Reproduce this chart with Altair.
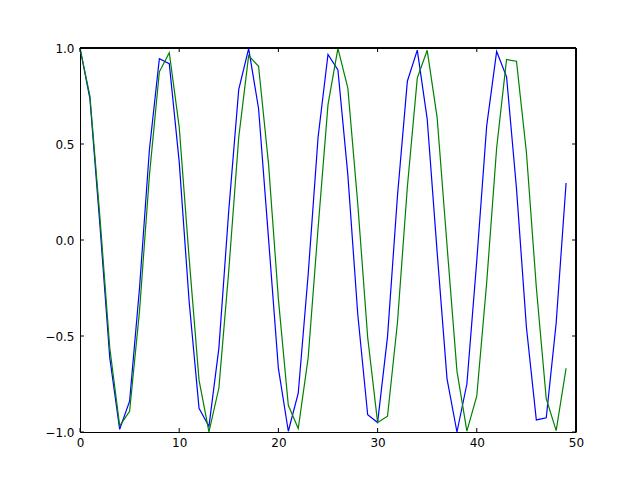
import altair as alt
import pandas as pd

xs = list(range(50))
blue = [1.000, 0.736, 0.083, -0.613, -0.986, -0.839, -0.250, 0.473, 0.944, 0.918,
        0.407, -0.319, -0.877, -0.971, -0.563, 0.156, 0.783, 0.997, 0.685, 0.011,
        -0.669, -0.996, -0.798, -0.180, 0.535, 0.966, 0.886, 0.339, -0.387, -0.910,
        -0.951, -0.503, 0.228, 0.827, 0.989, 0.630, -0.062, -0.723, -1.000, -0.750,
        -0.106, 0.596, 0.982, 0.850, 0.269, -0.453, -0.937, -0.926, -0.433, 0.297]
green = [1.000, 0.750, 0.125, -0.561, -0.968, -0.892, -0.369, 0.338, 0.876, 0.976,
         0.589, -0.093, -0.730, -0.999, -0.771, -0.158, 0.534, 0.960, 0.905, 0.399,
         -0.308, -0.861, -0.982, -0.614, 0.061, 0.705, 0.998, 0.791, 0.189, -0.507,
         -0.951, -0.918, -0.431, 0.276, 0.843, 0.988, 0.639, -0.029, -0.683, -0.995,
         -0.812, -0.220, 0.479, 0.940, 0.931, 0.457, -0.246, -0.826, -0.993, -0.668]
x_ticks = [0, 10, 20, 30, 40, 50]
y_ticks = [-1.0, -0.5, 0.0, 0.5, 1.0]

W, H = 496, 384
xscale = alt.Scale(domain=[0, 50], nice=False, zero=False)
yscale = alt.Scale(domain=[-1, 1], nice=False, zero=False)

df_b = pd.DataFrame({"x": xs, "y": blue})
df_g = pd.DataFrame({"x": xs, "y": green})
df_xt = pd.DataFrame({"t": x_ticks})
df_yt = pd.DataFrame({"t": y_ticks})

xaxis = alt.Axis(values=x_ticks, tickSize=0, grid=False, labelPadding=5,
                 labelFlush=False, labelOverlap=False, domainColor="black",
                 labelColor="black", labelFontSize=12, labelFont="DejaVu Sans",
                 title=None, format="d")
yaxis = alt.Axis(values=y_ticks, tickSize=0, grid=False, labelPadding=6,
                 labelFlush=False, labelOverlap=False, domainColor="black",
                 labelColor="black", labelFontSize=12, labelFont="DejaVu Sans",
                 title=None, format=".1f")

line_b = alt.Chart(df_b).mark_line(color="#0000ff", strokeWidth=1.2).encode(
    x=alt.X("x:Q", scale=xscale, axis=xaxis),
    y=alt.Y("y:Q", scale=yscale, axis=yaxis),
)
line_g = alt.Chart(df_g).mark_line(color="#008000", strokeWidth=1.2).encode(
    x=alt.X("x:Q", scale=xscale),
    y=alt.Y("y:Q", scale=yscale),
)

tl = 4
xt_bottom = alt.Chart(df_xt).mark_rule(color="black", strokeWidth=1).encode(
    x=alt.X("t:Q", scale=xscale), y=alt.value(H), y2=alt.value(H - tl))
xt_top = alt.Chart(df_xt).mark_rule(color="black", strokeWidth=1).encode(
    x=alt.X("t:Q", scale=xscale), y=alt.value(0), y2=alt.value(tl))
yt_left = alt.Chart(df_yt).mark_rule(color="black", strokeWidth=1).encode(
    y=alt.Y("t:Q", scale=yscale), x=alt.value(0), x2=alt.value(tl))
yt_right = alt.Chart(df_yt).mark_rule(color="black", strokeWidth=1).encode(
    y=alt.Y("t:Q", scale=yscale), x=alt.value(W), x2=alt.value(W - tl))

frame_top = alt.Chart(df_xt).mark_rule(color="black", strokeWidth=1).encode(
    x=alt.value(0), x2=alt.value(W), y=alt.value(0))
frame_right = alt.Chart(df_xt).mark_rule(color="black", strokeWidth=1).encode(
    x=alt.value(W), y=alt.value(0), y2=alt.value(H))

chart = alt.layer(line_b, line_g, xt_bottom, xt_top, yt_left, yt_right,
                  frame_top, frame_right).properties(
    width=W, height=H,
    autosize=alt.AutoSizeParams(type="none"),
    padding={"left": 72, "top": 40, "right": 56, "bottom": 40},
).configure_view(stroke="black", strokeWidth=1).configure(background="white")

chart.save("out.html", embed_options={"renderer": "svg", "actions": False})
